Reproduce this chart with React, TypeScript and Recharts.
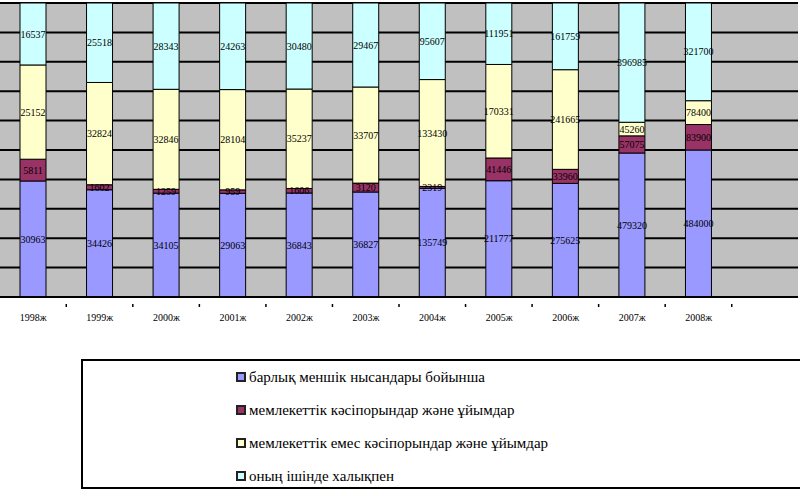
import { Bar, BarChart, CartesianGrid, LabelList, XAxis, YAxis } from "recharts"

const years = ["1998ж", "1999ж", "2000ж", "2001ж", "2002ж", "2003ж", "2004ж", "2005ж", "2006ж", "2007ж", "2008ж"]

const allForms = [30963, 34426, 34105, 29063, 36843, 36827, 135749, 211777, 275625, 479320, 484000]
const stateOwned = [5811, 1602, 1259, 959, 1606, 3120, 2319, 41446, 33960, 57075, 83900]
const nonState = [25152, 32824, 32846, 28104, 35237, 33707, 133430, 170331, 241665, 45260, 78400]
const population = [16537, 25518, 28343, 24263, 30480, 29467, 95607, 111951, 161759, 396985, 321700]

const gridTicks = [0, 0.1, 0.2, 0.3, 0.4, 0.5, 0.6, 0.7, 0.8, 0.9, 1]

const series = [
  { key: "allForms", name: "барлық меншік нысандары бойынша", color: "#9999FF" },
  { key: "stateOwned", name: "мемлекеттік кәсіпорындар және ұйымдар", color: "#993366" },
  { key: "nonState", name: "мемлекеттік емес кәсіпорындар және ұйымдар", color: "#FFFFCC" },
  { key: "population", name: "оның ішінде халықпен", color: "#CCFFFF" },
]

const data = years.map((year, i) => ({
  year,
  allForms: allForms[i],
  stateOwned: stateOwned[i],
  nonState: nonState[i],
  population: population[i],
}))

const serif = "Liberation Serif, serif"

function YearTick({ x, y, payload }: any) {
  return (
    <g>
      <line x1={x + 33} x2={x + 33} y1={y - 1} y2={y + 2} stroke="#000" strokeWidth={1.5} />
      <text x={x} y={y + 16} textAnchor="middle" fontSize={10} fontFamily={serif} fill="#000">
        {payload.value}
      </text>
    </g>
  )
}

export default function App() {
  return (
    <div style={{ position: "absolute", left: 0, top: 0, width: 800, height: 490, background: "#fff", overflow: "hidden" }}>
      <BarChart
        width={800}
        height={330}
        data={data}
        stackOffset="expand"
        margin={{ top: 3, right: 2, bottom: 0, left: 0 }}
      >
        <CartesianGrid vertical={false} fill="#C0C0C0" stroke="#000" strokeWidth={2} />
        <YAxis hide domain={[0, 1]} ticks={gridTicks} />
        <XAxis
          dataKey="year"
          height={33}
          padding={{ left: 0, right: 66 }}
          axisLine={{ stroke: "#000", strokeWidth: 2 }}
          tickLine={false}
          tick={<YearTick />}
          interval={0}
        />
        {series.map((s) => (
          <Bar
            key={s.key}
            dataKey={s.key}
            name={s.name}
            stackId="a"
            fill={s.color}
            stroke="#000"
            strokeWidth={1}
            barSize={26}
            isAnimationActive={false}
          >
            <LabelList dataKey={s.key} position="center" fontSize={10} fontFamily={serif} fill="#000" />
          </Bar>
        ))}
      </BarChart>
      <div
        style={{
          position: "absolute",
          left: 81,
          top: 359,
          width: 740,
          height: 126,
          border: "2px solid #000",
          background: "#fff",
          fontFamily: serif,
          fontSize: 15,
        }}
      >
        {series.map((s, i) => (
          <div
            key={s.key}
            style={{ position: "absolute", left: 153, top: 7 + i * 33, height: 18, display: "flex", alignItems: "center" }}
          >
            <span
              style={{
                display: "inline-block",
                width: 6,
                height: 6,
                background: s.color,
                border: "2px solid #222",
                marginRight: 3,
              }}
            />
            <span>{s.name}</span>
          </div>
        ))}
      </div>
    </div>
  )
}
